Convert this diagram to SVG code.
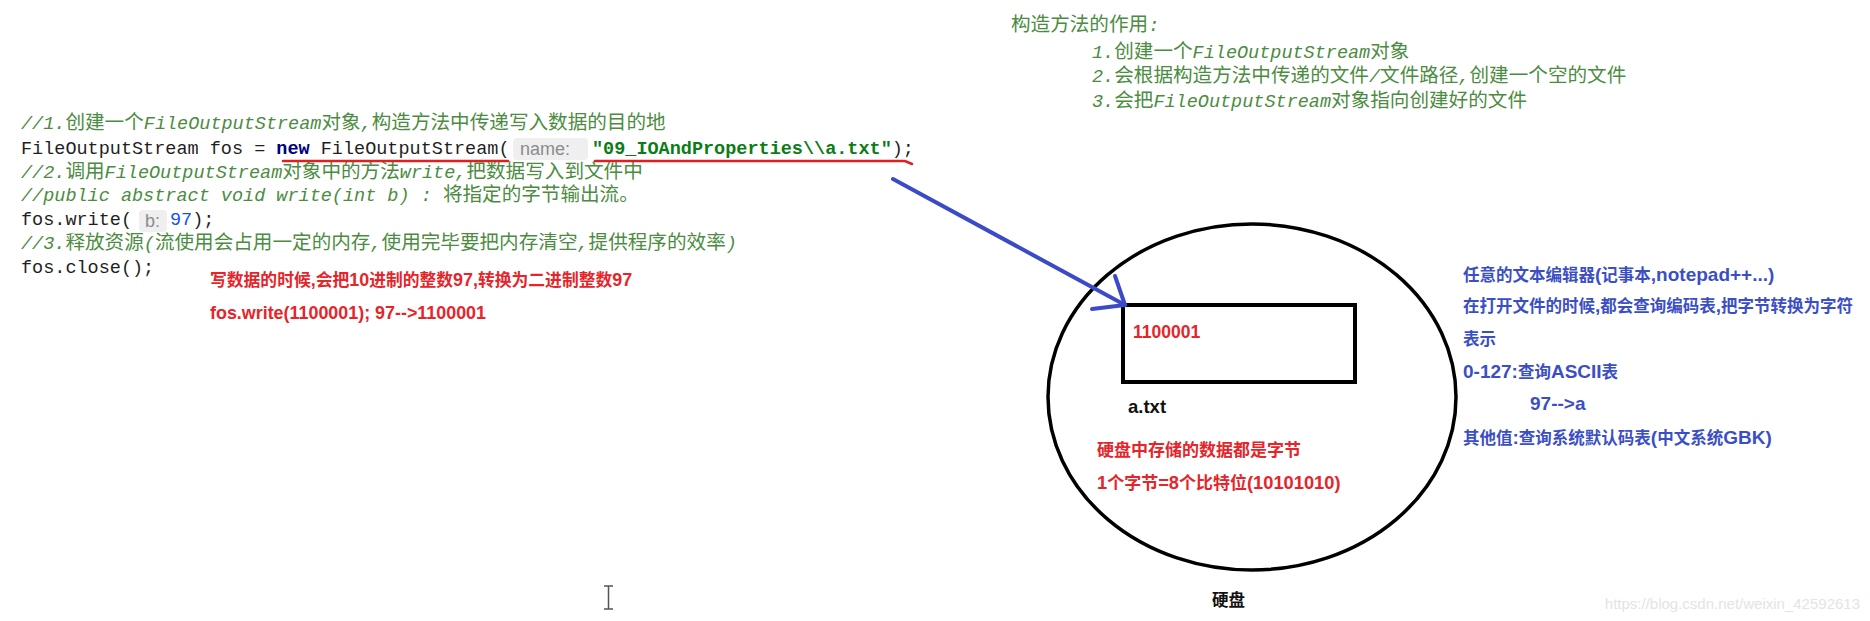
<svg xmlns="http://www.w3.org/2000/svg" width="1870" height="621" viewBox="0 0 1870 621">
<style>
.code{font-family:"Liberation Mono","DejaVu Sans Mono",monospace;font-size:18.5px;fill:#1f1f1f}
.cm{fill:#4b8c3f}
.i{font-style:italic}
.cj{font-family:"Noto Sans CJK SC",sans-serif;font-size:19.6px;font-style:normal}
.kw{fill:#000080;font-weight:bold}
.str{fill:#0b7d16;font-weight:bold}
.num{fill:#1750eb}
.hintbox{fill:#efefef}
.hint{font-family:"Liberation Sans","DejaVu Sans",sans-serif;font-size:18px;fill:#8c8c8c}
.red{font-family:"Liberation Sans","Noto Sans CJK SC",sans-serif;font-weight:bold;fill:#e5252a}
.blk{font-family:"Liberation Sans","Noto Sans CJK SC",sans-serif;font-weight:bold;fill:#111}
.blue{font-family:"Liberation Sans","Noto Sans CJK SC",sans-serif;font-weight:bold;fill:#3b4fc5;font-size:16.5px}
.blue .L{font-size:19px}
.uline{stroke:#e02020;stroke-width:2.5;fill:none;stroke-linecap:round}
.arrow{stroke:#3b4bc8;stroke-width:4;fill:none;stroke-linecap:round;stroke-linejoin:round}
</style>
<rect width="1870" height="621" fill="#ffffff"/>

<g id="code">
<text class="code cm" x="21" y="129"><tspan class="i">//1.</tspan><tspan class="cj">创建一个</tspan><tspan class="i">FileOutputStream</tspan><tspan class="cj">对象</tspan><tspan class="i">,</tspan><tspan class="cj">构造方法中传递写入数据的目的地</tspan></text>
<text class="code" x="21" y="153.5">FileOutputStream fos = <tspan class="kw">new</tspan> FileOutputStream(</text>
<rect class="hintbox" x="513" y="138" width="75" height="22" rx="4"/>
<text class="hint" x="520" y="155">name:</text>
<text class="code" x="592" y="153.5"><tspan class="str">"09_IOAndProperties\\a.txt"</tspan>);</text>
<text class="code cm" x="21" y="177.5"><tspan class="i">//2.</tspan><tspan class="cj">调用</tspan><tspan class="i">FileOutputStream</tspan><tspan class="cj">对象中的方法</tspan><tspan class="i">write,</tspan><tspan class="cj">把数据写入到文件中</tspan></text>
<text class="code cm" x="21" y="201"><tspan class="i">//public abstract void write(int b) : </tspan><tspan class="cj">将指定的字节输出流。</tspan></text>
<text class="code" x="21" y="225">fos.write(</text>
<rect class="hintbox" x="139" y="210" width="28" height="22" rx="4"/>
<text class="hint" x="145" y="227">b:</text>
<text class="code" x="170" y="225"><tspan class="num">97</tspan>);</text>
<text class="code cm" x="21" y="249"><tspan class="i">//3.</tspan><tspan class="cj">释放资源</tspan><tspan class="i">(</tspan><tspan class="cj">流使用会占用一定的内存</tspan><tspan class="i">,</tspan><tspan class="cj">使用完毕要把内存清空</tspan><tspan class="i">,</tspan><tspan class="cj">提供程序的效率</tspan><tspan class="i">)</tspan></text>
<text class="code" x="21" y="273">fos.close();</text>
</g>

<g id="underlines">
<path class="uline" d="M283,161 L508,161"/>
<path class="uline" d="M595,161 L905,161 L912,164"/>
</g>

<g id="red-notes">
<text class="red" x="210" y="286" font-size="16.8">写数据的时候<tspan font-size="17.9">,</tspan>会把<tspan font-size="17.9">10</tspan>进制的整数<tspan font-size="17.9">97,</tspan>转换为二进制整数<tspan font-size="17.9">97</tspan></text>
<text class="red" x="210" y="319" font-size="17.9">fos.write(1100001); 97--&gt;1100001</text>
</g>

<g id="constructor-notes">
<text class="code cm" x="1011" y="31"><tspan class="cj">构造方法的作用</tspan><tspan class="i">:</tspan></text>
<text class="code cm" x="1092" y="58"><tspan class="i">1.</tspan><tspan class="cj">创建一个</tspan><tspan class="i">FileOutputStream</tspan><tspan class="cj">对象</tspan></text>
<text class="code cm" x="1092" y="82"><tspan class="i">2.</tspan><tspan class="cj">会根据构造方法中传递的文件</tspan><tspan class="i">/</tspan><tspan class="cj">文件路径</tspan><tspan class="i">,</tspan><tspan class="cj">创建一个空的文件</tspan></text>
<text class="code cm" x="1092" y="107"><tspan class="i">3.</tspan><tspan class="cj">会把</tspan><tspan class="i">FileOutputStream</tspan><tspan class="cj">对象指向创建好的文件</tspan></text>
</g>

<g id="disk">
<ellipse cx="1252" cy="397" rx="204" ry="173" fill="none" stroke="#000" stroke-width="3.5"/>
<text class="blk" x="1212" y="606" font-size="16.5">硬盘</text>
<text class="red" x="1097" y="456" font-size="17">硬盘中存储的数据都是字节</text>
<text class="red" x="1097" y="489" font-size="17"><tspan font-size="18.3">1</tspan>个字节<tspan font-size="18.3">=8</tspan>个比特位<tspan font-size="18.3">(10101010)</tspan></text>
</g>

<g id="file">
<rect x="1123" y="305" width="232" height="77" fill="none" stroke="#000" stroke-width="4"/>
<text class="red" x="1133" y="338" font-size="17.5">1100001</text>
<text class="blk" x="1128" y="413" font-size="18.5">a.txt</text>
</g>

<g id="editor-notes">
<text class="blue" x="1463" y="281">任意的文本编辑器<tspan class="L">(</tspan>记事本<tspan class="L">,notepad++...)</tspan></text>
<text class="blue" x="1463" y="312">在打开文件的时候<tspan class="L">,</tspan>都会查询编码表<tspan class="L">,</tspan>把字节转换为字符</text>
<text class="blue" x="1463" y="345">表示</text>
<text class="blue" x="1463" y="378"><tspan class="L">0-127:</tspan>查询<tspan class="L">ASCII</tspan>表</text>
<text class="blue" x="1530" y="410"><tspan class="L">97--&gt;a</tspan></text>
<text class="blue" x="1463" y="444">其他值<tspan class="L">:</tspan>查询系统默认码表<tspan class="L">(</tspan>中文系统<tspan class="L">GBK)</tspan></text>
</g>

<g id="connectors">
<path class="arrow" d="M893,179 L1125,305"/>
<path class="arrow" d="M1115,276 L1125,305 L1092,309"/>
</g>

<g id="extras">
<path d="M604,586 H613 M608.5,586 V609 M604,609 H613" stroke="#555" stroke-width="1.5" fill="none"/>
<text x="1860" y="609" text-anchor="end" font-family="Liberation Sans,Arial,sans-serif" font-size="15" fill="#e4e4e4">https://blog.csdn.net/weixin_42592613</text>
</g>
</svg>
